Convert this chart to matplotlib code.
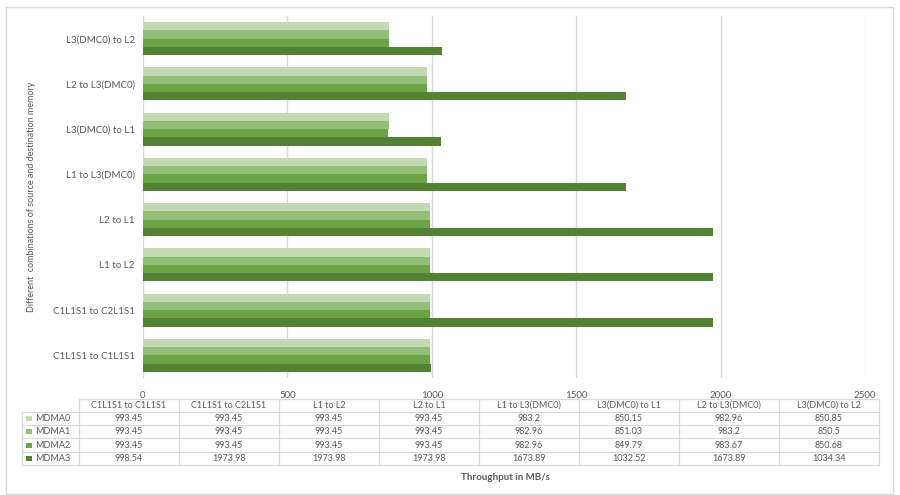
import matplotlib
matplotlib.use("Agg")
import matplotlib.pyplot as plt
import numpy as np
from matplotlib.patches import Rectangle

categories = ["C1L1S1 to C1L1S1", "C1L1S1 to C2L1S1", "L1 to L2", "L2 to L1",
              "L1 to L3(DMC0)", "L3(DMC0) to L1", "L2 to L3(DMC0)", "L3(DMC0) to L2"]
series_names = ["MDMA0", "MDMA1", "MDMA2", "MDMA3"]
mdma0 = [993.45, 993.45, 993.45, 993.45, 983.2, 850.15, 982.96, 850.85]
mdma1 = [993.45, 993.45, 993.45, 993.45, 982.96, 851.03, 983.2, 850.5]
mdma2 = [993.45, 993.45, 993.45, 993.45, 982.96, 849.79, 983.67, 850.68]
mdma3 = [998.54, 1973.98, 1973.98, 1973.98, 1673.89, 1032.52, 1673.89, 1034.34]
x_ticks = [0, 500, 1000, 1500, 2000, 2500]

series = [mdma0, mdma1, mdma2, mdma3]
colors = ["#c3d9b4", "#93be77", "#6ba444", "#548235"]
text_col = "#595959"
grid_col = "#d9d9d9"
FONT = "Lato"

W, H = 900, 495
fig = plt.figure(figsize=(W / 100, H / 100), dpi=100)

def fx(px):
    return px / W

def fy(py):
    return 1 - py / H

# main axes
ax_l, ax_r, ax_t, ax_b = 143, 865, 16, 378
ax = fig.add_axes([fx(ax_l), fy(ax_b), fx(ax_r) - fx(ax_l), fy(ax_t) - fy(ax_b)])

n = len(categories)
y = np.arange(n)
bh = 0.183
for i, vals in enumerate(series):
    offset = (1.5 - i) * bh
    ax.barh(y + offset, vals, height=bh, color=colors[i], edgecolor="none", zorder=3)

ax.set_xlim(0, 2500)
ax.set_ylim(-0.5, n - 0.5)
ax.set_xticks(x_ticks)
ax.set_xticklabels([str(t) for t in x_ticks], fontsize=7, color=text_col, family=FONT)
ax.set_yticks(y)
ax.set_yticklabels(categories, fontsize=7, color=text_col, family=FONT)
ax.tick_params(axis="both", length=0, pad=6)
ax.tick_params(axis="x", pad=9)
ax.grid(axis="x", color=grid_col, linewidth=1, zorder=0)
for s in ax.spines.values():
    s.set_visible(False)

# y-axis title
fig.text(fx(32), fy(197), "Different  combinations of source and destination memory",
         rotation=90, ha="center", va="center", fontsize=6.5, color=text_col, family=FONT)

# overlay axes for table and frame
ov = fig.add_axes([0, 0, 1, 1], zorder=5)
ov.set_xlim(0, W)
ov.set_ylim(H, 0)
ov.axis("off")
ov.patch.set_alpha(0)

# chart frame
ov.add_patch(Rectangle((6, 7), 887, 487, fill=False, edgecolor="#d9d9d9", linewidth=1))

# table
col_x0 = 79
col_w = 100
leg_x0 = 22
row_edges = [399, 412, 425, 438, 452, 465]
ncol = len(categories)
x_right = col_x0 + col_w * ncol
lc = "#d9d9d9"
lw = 0.9
ov.plot([col_x0, x_right], [row_edges[0], row_edges[0]], color=lc, lw=lw)
for yy in row_edges[1:]:
    ov.plot([leg_x0, x_right], [yy, yy], color=lc, lw=lw)
ov.plot([leg_x0, leg_x0], [row_edges[1], row_edges[-1]], color=lc, lw=lw)
for j in range(ncol + 1):
    xx = col_x0 + col_w * j
    ov.plot([xx, xx], [row_edges[0], row_edges[-1]], color=lc, lw=lw)

for j, cat in enumerate(categories):
    cx = col_x0 + col_w * (j + 0.5)
    ov.text(cx, (row_edges[0] + row_edges[1]) / 2, cat, ha="center", va="center",
            fontsize=6.5, color=text_col, family=FONT)
    for i, vals in enumerate(series):
        cy = (row_edges[i + 1] + row_edges[i + 2]) / 2
        ov.text(cx, cy, f"{vals[j]:g}", ha="center", va="center",
                fontsize=6.5, color=text_col, family=FONT)

for i, name in enumerate(series_names):
    cy = (row_edges[i + 1] + row_edges[i + 2]) / 2
    ov.add_patch(Rectangle((26, cy - 2.5), 6, 5, color=colors[i], linewidth=0))
    ov.text(35, cy, name, ha="left", va="center", fontsize=6.5, color=text_col, family=FONT)

# x-axis title
ov.text(505, 478, "Throughput in MB/s", ha="center", va="center", fontsize=7,
        fontweight="bold", color=text_col, family=FONT)

fig.savefig("out.png", dpi=100)
